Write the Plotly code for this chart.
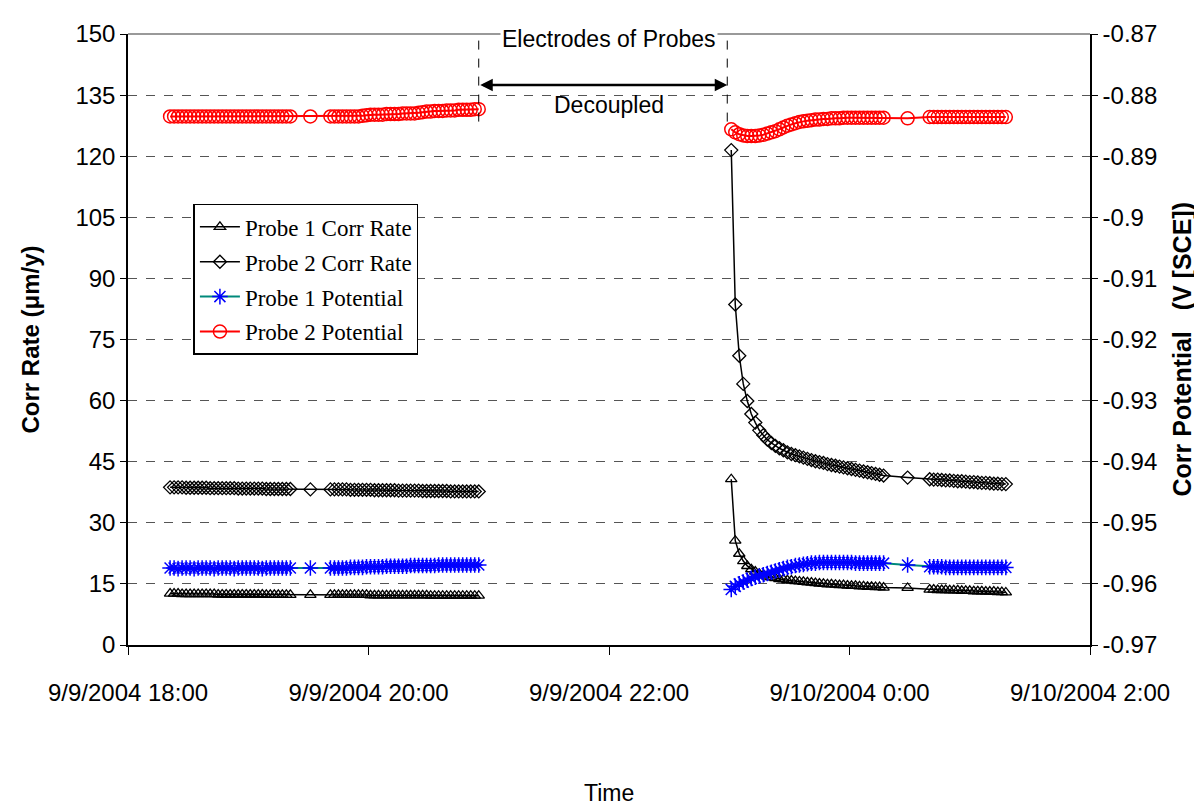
import pandas as pd
import plotly.graph_objects as go

# ---------------- data ----------------
# sample times (logger every 2 min), with the decoupled period (no data) between segments
seg1a_start, seg1a_n = "2004-09-09 18:21", 31
seg1_single = "2004-09-09 19:31"
seg1b_start, seg1b_n = "2004-09-09 19:41", 38
gap_time = "2004-09-09 22:00"
seg2a_start, seg2a_n = "2004-09-09 23:01", 39
seg2_single = "2004-09-10 00:29"
seg2b_start, seg2b_n = "2004-09-10 00:40", 20

p1_rate_1 = [12.6,12.6,12.6,12.5,12.5,12.5,12.5,12.5,12.5,12.5,
             12.5,12.5,12.4,12.4,12.4,12.4,12.4,12.4,12.4,12.4,
             12.4,12.4,12.4,12.4,12.3,12.3,12.3,12.3,12.3,12.3,
             12.3,
             12.3,
             12.3,12.3,12.3,12.3,12.3,12.3,12.3,12.3,12.3,12.3,
             12.2,12.2,12.2,12.2,12.2,12.2,12.2,12.2,12.2,12.2,
             12.2,12.2,12.2,12.2,12.2,12.1,12.1,12.1,12.1,12.1,
             12.1,12.1,12.1,12.1,12.1,12.1,12.1,12.1]
p1_rate_2 = [40.7,25.6,22.4,20.6,19.4,18.6,18.0,17.5,17.1,16.8,
             16.6,16.4,16.2,16.1,15.9,15.8,15.7,15.6,15.5,15.4,
             15.3,15.2,15.1,15.0,14.9,14.9,14.8,14.7,14.7,14.6,
             14.5,14.5,14.4,14.4,14.3,14.3,14.2,14.2,14.1,
             14.0,
             13.6,13.6,13.5,13.5,13.5,13.4,13.4,13.4,13.3,13.3,
             13.3,13.2,13.2,13.2,13.1,13.1,13.1,13.0,13.0,12.9]

p2_rate_1 = [38.7,38.7,38.7,38.7,38.6,38.6,38.6,38.6,38.6,38.6,
             38.5,38.5,38.5,38.5,38.5,38.5,38.5,38.4,38.4,38.4,
             38.4,38.4,38.4,38.4,38.3,38.3,38.3,38.3,38.3,38.3,
             38.3,
             38.2,
             38.2,38.2,38.2,38.2,38.2,38.1,38.1,38.1,38.1,38.1,
             38.1,38.0,38.0,38.0,38.0,38.0,38.0,37.9,37.9,37.9,
             37.9,37.9,37.9,37.8,37.8,37.8,37.8,37.8,37.8,37.8,
             37.7,37.7,37.7,37.7,37.7,37.7,37.7,37.7]
p2_rate_2 = [121.5,83.6,71.0,64.1,59.9,56.7,54.6,52.7,51.5,50.4,
             49.6,48.9,48.3,47.8,47.3,46.9,46.6,46.3,46.0,45.7,
             45.4,45.1,44.9,44.7,44.4,44.2,44.0,43.8,43.6,43.4,
             43.2,43.0,42.8,42.6,42.4,42.2,42.0,41.8,41.6,
             41.1,
             40.7,40.6,40.6,40.5,40.4,40.4,40.3,40.2,40.2,40.1,
             40.0,40.0,39.9,39.8,39.8,39.7,39.6,39.6,39.5,39.5]

p1_pot_1 = [-0.9574,-0.9574,-0.9575,-0.9574,-0.9574,-0.9574,-0.9575,-0.9574,-0.9574,-0.9574,
            -0.9574,-0.9575,-0.9574,-0.9574,-0.9574,-0.9574,-0.9575,-0.9574,-0.9574,-0.9574,
            -0.9574,-0.9574,-0.9574,-0.9575,-0.9574,-0.9574,-0.9574,-0.9574,-0.9574,-0.9574,
            -0.9574,
            -0.9574,
            -0.9574,-0.9574,-0.9574,-0.9574,-0.9574,-0.9573,-0.9573,-0.9573,-0.9573,-0.9572,
            -0.9572,-0.9572,-0.9572,-0.9572,-0.9571,-0.9571,-0.9571,-0.9571,-0.9571,-0.9571,
            -0.9570,-0.9570,-0.9570,-0.9570,-0.9570,-0.9570,-0.9570,-0.9569,-0.9569,-0.9569,
            -0.9569,-0.9569,-0.9569,-0.9569,-0.9569,-0.9569,-0.9569,-0.9569]
p1_pot_2 = [-0.9609,-0.9604,-0.9600,-0.9597,-0.9594,-0.9591,-0.9589,-0.9587,-0.9585,-0.9583,
            -0.9581,-0.9579,-0.9577,-0.9575,-0.9573,-0.9572,-0.9570,-0.9569,-0.9568,-0.9567,
            -0.9566,-0.9566,-0.9565,-0.9565,-0.9565,-0.9565,-0.9565,-0.9565,-0.9565,-0.9565,
            -0.9565,-0.9566,-0.9566,-0.9566,-0.9566,-0.9566,-0.9566,-0.9566,-0.9566,
            -0.9569,
            -0.9572,-0.9572,-0.9572,-0.9572,-0.9573,-0.9573,-0.9573,-0.9573,-0.9573,-0.9573,
            -0.9573,-0.9573,-0.9573,-0.9573,-0.9573,-0.9573,-0.9573,-0.9573,-0.9573,-0.9573]

p2_pot_1 = [-0.8835,-0.8835,-0.8835,-0.8835,-0.8835,-0.8835,-0.8835,-0.8835,-0.8835,-0.8835,
            -0.8835,-0.8835,-0.8835,-0.8835,-0.8835,-0.8835,-0.8835,-0.8835,-0.8835,-0.8835,
            -0.8835,-0.8835,-0.8835,-0.8835,-0.8835,-0.8835,-0.8835,-0.8835,-0.8835,-0.8835,
            -0.8835,
            -0.8835,
            -0.8835,-0.8835,-0.8835,-0.8835,-0.8835,-0.8835,-0.8835,-0.8835,-0.8834,-0.8833,
            -0.8832,-0.8832,-0.8832,-0.8832,-0.8831,-0.8831,-0.8831,-0.8831,-0.8830,-0.8830,
            -0.8830,-0.8830,-0.8829,-0.8828,-0.8827,-0.8827,-0.8826,-0.8826,-0.8826,-0.8825,
            -0.8825,-0.8825,-0.8824,-0.8824,-0.8824,-0.8824,-0.8823,-0.8823]
p2_pot_2 = [-0.8856,-0.8861,-0.8864,-0.8866,-0.8867,-0.8867,-0.8867,-0.8866,-0.8865,-0.8863,
            -0.8861,-0.8859,-0.8856,-0.8853,-0.8850,-0.8848,-0.8846,-0.8844,-0.8843,-0.8842,
            -0.8841,-0.8840,-0.8840,-0.8839,-0.8839,-0.8838,-0.8838,-0.8838,-0.8837,-0.8837,
            -0.8837,-0.8837,-0.8837,-0.8837,-0.8837,-0.8837,-0.8837,-0.8837,-0.8837,
            -0.8838,
            -0.8836,-0.8836,-0.8836,-0.8836,-0.8836,-0.8836,-0.8836,-0.8836,-0.8836,-0.8836,
            -0.8836,-0.8836,-0.8836,-0.8836,-0.8836,-0.8836,-0.8836,-0.8836,-0.8836,-0.8836]

x_tick_vals = ["2004-09-09 18:00", "2004-09-09 20:00", "2004-09-09 22:00",
               "2004-09-10 00:00", "2004-09-10 02:00"]
x_tick_text = ["9/9/2004 18:00", "9/9/2004 20:00", "9/9/2004 22:00",
               "9/10/2004 0:00", "9/10/2004 2:00"]
left_ticks = [0, 15, 30, 45, 60, 75, 90, 105, 120, 135, 150]
right_ticks = [-0.97, -0.96, -0.95, -0.94, -0.93, -0.92, -0.91, -0.90, -0.89, -0.88, -0.87]
right_tick_text = ["-0.97", "-0.96", "-0.95", "-0.94", "-0.93", "-0.92", "-0.91",
                   "-0.9", "-0.89", "-0.88", "-0.87"]

decouple_start = "2004-09-09 20:55"
decouple_end = "2004-09-09 22:59"

# ---------------- build x ----------------
def seg(start, n):
    return list(pd.date_range(start, periods=n, freq="2min"))

times = (seg(seg1a_start, seg1a_n) + [pd.Timestamp(seg1_single)] + seg(seg1b_start, seg1b_n)
         + [pd.Timestamp(gap_time)]
         + seg(seg2a_start, seg2a_n) + [pd.Timestamp(seg2_single)] + seg(seg2b_start, seg2b_n))

def join(a, b):
    return list(a) + [None] + list(b)

FONT = "Arial"
TICK = 24
fig = go.Figure()

fig.add_trace(go.Scatter(
    x=times, y=join(p1_rate_1, p1_rate_2), name="Probe 1 Corr Rate", mode="lines+markers",
    line=dict(color="black", width=1.5),
    marker=dict(symbol="triangle-up-open", size=10, color="black", line=dict(width=1.3, color="black")),
    legendgroup="a"))
fig.add_trace(go.Scatter(
    x=times, y=join(p2_rate_1, p2_rate_2), name="Probe 2 Corr Rate", mode="lines+markers",
    line=dict(color="black", width=1.5),
    marker=dict(symbol="diamond-open", size=10, color="black", line=dict(width=1.3, color="black")),
    legendgroup="b"))
fig.add_trace(go.Scatter(
    x=times, y=join(p1_pot_1, p1_pot_2), name="Probe 1 Potential", mode="lines+markers",
    yaxis="y2", line=dict(color="#00897b", width=2),
    marker=dict(symbol="asterisk-open", size=13, color="#0000ff", line=dict(width=1.5, color="#0000ff")),
    legendgroup="c"))
fig.add_trace(go.Scatter(
    x=times, y=join(p2_pot_1, p2_pot_2), name="Probe 2 Potential", mode="lines+markers",
    yaxis="y2", line=dict(color="#ff0000", width=2),
    marker=dict(symbol="circle-open", size=13, color="#ff0000", line=dict(width=1.5, color="#ff0000")),
    legendgroup="d"))

# the page has an 8px body margin, so the figure is 8px smaller and margins shifted
fig.update_layout(
    width=1194, height=798,
    margin=dict(l=120, r=112, t=17, b=161),
    paper_bgcolor="white", plot_bgcolor="white",
    font=dict(family=FONT, size=23, color="black"),
    showlegend=True,
    legend=dict(x=0.068, y=0.722, xanchor="left", yanchor="top",
                bgcolor="white", bordercolor="black", borderwidth=1.5,
                font=dict(family="Liberation Serif, Times New Roman, serif", size=23),
                tracegroupgap=2, itemwidth=40),
    xaxis=dict(range=["2004-09-09 18:00", "2004-09-10 02:00"],
               tickvals=x_tick_vals, ticktext=x_tick_text,
               showgrid=False, zeroline=False,
               showline=True, linecolor="black", linewidth=1.5,
               ticks="outside", ticklen=8, tickcolor="black",
               ticklabelstandoff=17,
               tickfont=dict(family=FONT, size=TICK)),
    yaxis=dict(range=[0, 150], tickvals=left_ticks,
               showgrid=True, gridcolor="#555555", griddash="dash", gridwidth=1,
               zeroline=False, showline=True, linecolor="black", linewidth=1.5,
               ticks="outside", ticklen=6, tickcolor="black",
               tickfont=dict(family=FONT, size=TICK)),
    yaxis2=dict(range=[-0.97, -0.87], tickvals=right_ticks, ticktext=right_tick_text,
                overlaying="y", side="right", showgrid=False, zeroline=False,
                showline=True, linecolor="black", linewidth=1.5,
                ticks="outside", ticklen=6, tickcolor="black",
                tickfont=dict(family=FONT, size=TICK)),
)

# plot-area top border
fig.add_shape(type="line", xref="paper", yref="paper", x0=0, x1=1, y0=1, y1=1,
              line=dict(color="#999999", width=2))

# decoupled markers
for t in (decouple_start, decouple_end):
    fig.add_shape(type="line", xref="x", yref="y", x0=t, x1=t, y0=128.5, y1=148.5,
                  line=dict(color="black", width=1, dash="dash"))

fig.add_annotation(x=decouple_end, y=137.5, ax=decouple_start, ay=137.5,
                   xref="x", yref="y", axref="x", ayref="y", text="",
                   showarrow=True, arrowhead=2, startarrowhead=2, arrowside="end+start",
                   arrowsize=1, startarrowsize=1, arrowwidth=2.5, arrowcolor="black")

fig.add_annotation(x="2004-09-09 22:00", y=1, xref="x", yref="paper", yanchor="middle",
                   yshift=-5, text="Electrodes of Probes", showarrow=False,
                   bgcolor="white", font=dict(family=FONT, size=23))
fig.add_annotation(x="2004-09-09 22:00", y=132.5, xref="x", yref="y", yanchor="middle",
                   text="Decoupled", showarrow=False, font=dict(family=FONT, size=23))

# axis titles
fig.add_annotation(x=0, y=0.5, xref="paper", yref="paper", xshift=-98, xanchor="center",
                   yanchor="middle", textangle=-90, showarrow=False,
                   text="<b>Corr Rate (μm/y)</b>", font=dict(family=FONT, size=24))
fig.add_annotation(x=1, y=0.5, xref="paper", yref="paper", xshift=91, yshift=-10,
                   xanchor="center", yanchor="middle", textangle=-90, showarrow=False,
                   text="<b>Corr Potential\u00a0\u00a0\u00a0(V\u00a0[SCE])</b>",
                   font=dict(family=FONT, size=25))
fig.add_annotation(x=0.5, y=0, xref="paper", yref="paper", yshift=-148, xanchor="center",
                   yanchor="middle", showarrow=False, text="Time",
                   font=dict(family=FONT, size=23))

fig.write_html("out.html")
